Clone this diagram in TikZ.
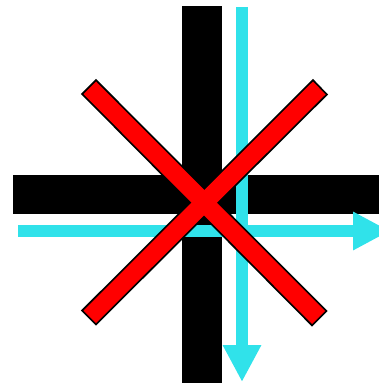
\documentclass[tikz,border=0pt]{standalone}
\usetikzlibrary{arrows.meta}
\definecolor{flowcyan}{RGB}{48,226,234}
\tikzset{
  bar/.style={fill=black},
  flow/.style={draw=flowcyan, line width=12pt, -{Triangle[length=37pt,width=36pt]}},
  crossedge/.style={draw=black, line width=3.6pt, line join=miter},
  crossfill/.style={fill=red}
}
\begin{document}
\begin{tikzpicture}[x=1pt,y=-1pt]
  \clip (0,0) rectangle (379,385);
  \useasboundingbox (0,0) rectangle (379,385);
  % black bars
  \fill[bar] (182,6) rectangle (222,383);
  \fill[bar] (13,175) rectangle (385,214);
  % cyan flows
  \coordinate (vstart) at (242,7);
  \coordinate (vend) at (242,382);
  \coordinate (hstart) at (18,231);
  \coordinate (hend) at (390,231);
  \draw[flow] (vstart) -- (vend);
  \draw[flow] (hstart) -- (hend);
  % red cross: outlines first, fill on top
  \draw[crossedge] (96,81.5) -- (325,311) -- (312,324) -- (83.5,94) -- cycle;
  \draw[crossedge] (313,81.5) -- (325.5,94.5) -- (96,323) -- (83.5,310.5) -- cycle;
  \fill[crossfill] (96,81.5) -- (325,311) -- (312,324) -- (83.5,94) -- cycle;
  \fill[crossfill] (313,81.5) -- (325.5,94.5) -- (96,323) -- (83.5,310.5) -- cycle;
\end{tikzpicture}
\end{document}
